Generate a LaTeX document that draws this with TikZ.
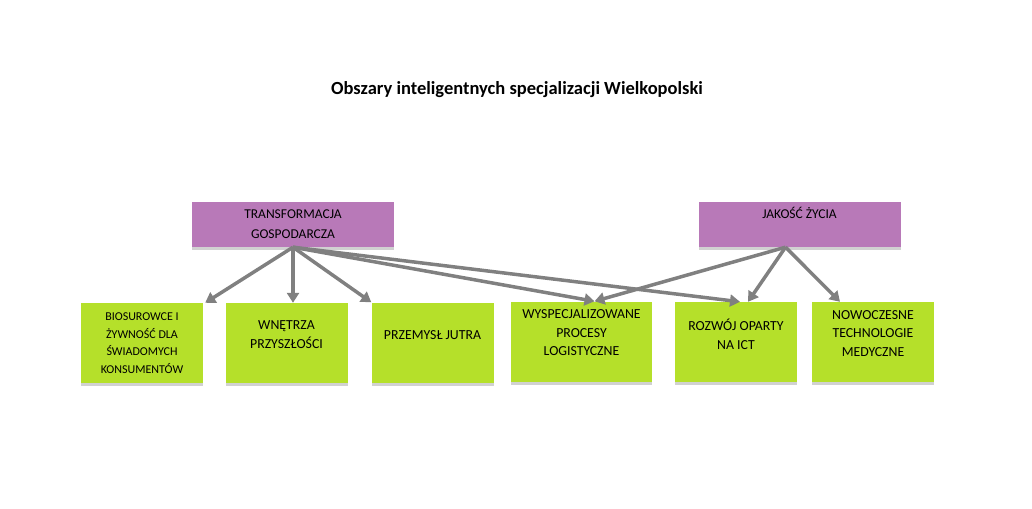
\documentclass[tikz,border=0pt]{standalone}
\usepackage{fontspec}
\setmainfont{Carlito}
\usetikzlibrary{arrows.meta,shadows}
\definecolor{fiolet}{HTML}{B879B8}
\definecolor{zielony}{HTML}{B5E02A}
\definecolor{strzalka}{HTML}{808080}
\begin{document}
\begin{tikzpicture}[x=1pt,y=-1pt,
	obszar/.style={rectangle, fill=fiolet, minimum width=202pt, minimum height=45pt, inner sep=0pt, align=center, font=\fontsize{13.5}{20}\selectfont, drop shadow={shadow xshift=0pt, shadow yshift=-3pt, fill=black!18, opacity=1}},
	spec/.style={rectangle, fill=zielony, minimum width=122pt, minimum height=80pt, inner sep=0pt, align=center, font=\fontsize{13.8}{18.5}\selectfont, drop shadow={shadow xshift=0pt, shadow yshift=-3pt, fill=black!18, opacity=1}},
	strz/.style={draw=strzalka, line width=3.5pt, -{Triangle[length=10pt,width=12pt]}}]
	\useasboundingbox (0,0) rectangle (1032,508);
	\node (tytul) at (517, 90)	[font=\fontsize{18.5}{22}\selectfont\bfseries]	{Obszary inteligentnych specjalizacji Wielkopolski};
	\node (tra) at (293, 224.5)	[obszar]	{TRANSFORMACJA\\GOSPODARCZA};
	\node (jak) at (799.5, 224.5)	[obszar, text depth=24pt]	{JAKOŚĆ ŻYCIA};
	\node (bio) at (142, 343)	[spec, font=\fontsize{12}{17.5}\selectfont]	{BIOSUROWCE I\\ŻYWNOŚĆ DLA\\ŚWIADOMYCH\\KONSUMENTÓW};
	\node (wne) at (286.5, 343)	[spec, text depth=17pt]	{WNĘTRZA\\PRZYSZŁOŚCI};
	\node (prz) at (432.5, 342.5)	[spec, text depth=14pt]	{PRZEMYSŁ JUTRA};
	\node (wys) at (581.5, 341.5)	[spec, minimum width=141pt, text depth=17pt]	{WYSPECJALIZOWANE\\PROCESY\\LOGISTYCZNE};
	\node (roz) at (736, 342)	[spec, text depth=16pt]	{ROZWÓJ OPARTY\\NA ICT};
	\node (now) at (873, 342)	[spec, text depth=17pt]	{NOWOCZESNE\\TECHNOLOGIE\\MEDYCZNE};
	\draw[strz] (tra.south) -- ([xshift=2pt]bio.north east);
	\draw[strz] (tra.south) -- (tra.south |- wne.north);
	\draw[strz] (tra.south) -- (prz.north west);
	\draw[strz] (tra.south) -- ([xshift=13pt]wys.north);
	\draw[strz] (tra.south) -- ([xshift=4pt]roz.north);
	\draw[strz] ([xshift=-14pt]jak.south) -- ([xshift=13pt]wys.north);
	\draw[strz] ([xshift=-14pt]jak.south) -- ([xshift=12pt]roz.north);
	\draw[strz] ([xshift=-14pt]jak.south) -- ([xshift=-33pt]now.north);
\end{tikzpicture}
\end{document}
